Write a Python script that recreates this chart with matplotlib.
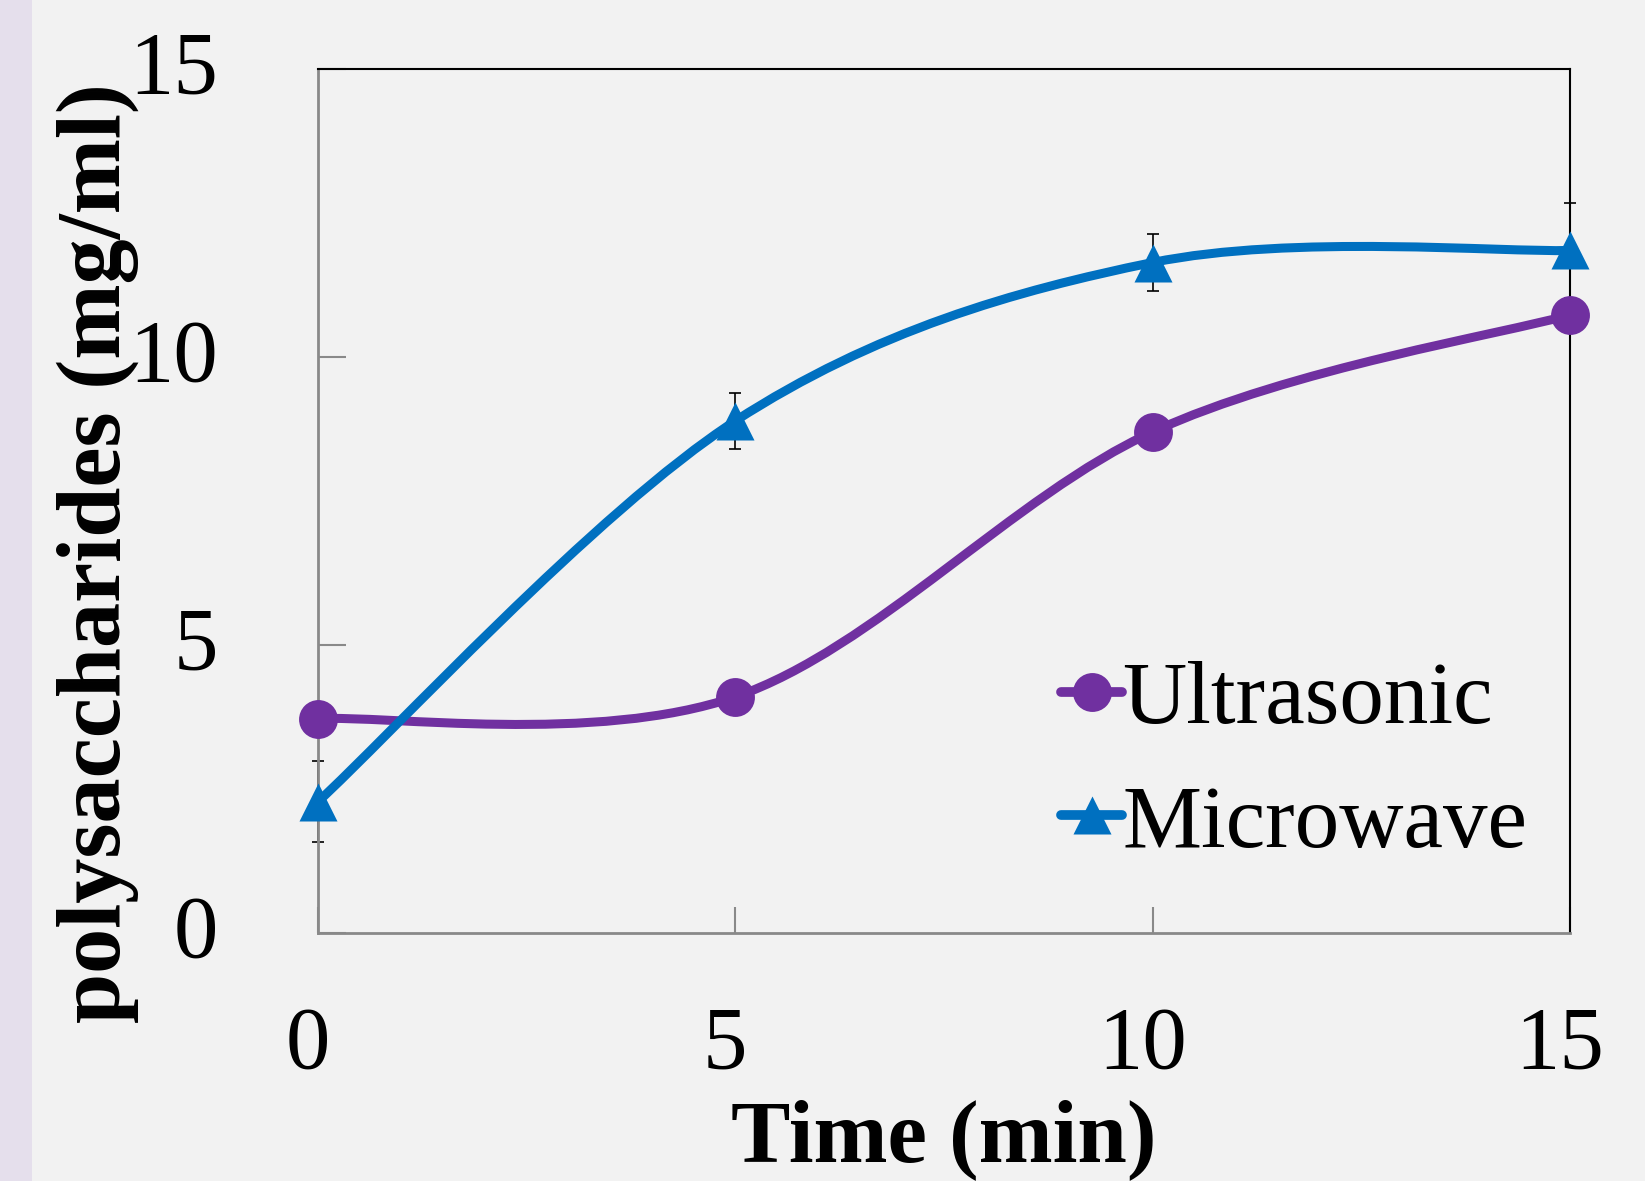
import numpy as np
import matplotlib
matplotlib.use("Agg")
import matplotlib.pyplot as plt
from matplotlib.path import Path
from matplotlib.patches import PathPatch, Rectangle
from matplotlib.lines import Line2D
from matplotlib.transforms import ScaledTranslation

plt.rcParams['font.family'] = ['Liberation Serif', 'DejaVu Serif']

# data
time_min = [0, 5, 10, 15]
ultrasonic = [3.72, 4.10, 8.70, 10.73]
microwave = [2.28, 8.89, 11.64, 11.85]
microwave_err = [0.70, 0.48, 0.49, 0.82]
x_ticks = [0, 5, 10, 15]
y_ticks = [0, 5, 10, 15]

PURPLE = '#7030A0'
BLUE = '#0070C0'
BG = '#f2f2f2'


def smooth_path(xs, ys):
    # Excel-like smoothed line: cubic bezier through the points
    p = np.column_stack([xs, ys]).astype(float)
    n = len(p)
    verts = [p[0]]
    codes = [Path.MOVETO]
    for i in range(n - 1):
        p_prev = p[max(i - 1, 0)]
        p_next = p[min(i + 2, n - 1)]
        c1 = p[i] + (p[i + 1] - p_prev) / 6.0
        c2 = p[i + 1] - (p_next - p[i]) / 6.0
        verts += [c1, c2, p[i + 1]]
        codes += [Path.CURVE4] * 3
    return Path(verts, codes)


fig = plt.figure(figsize=(16.45, 11.81), dpi=100)
fig.set_facecolor(BG)
fig.patches.append(Rectangle((0, 0), 32 / 1645, 1, transform=fig.transFigure,
                             facecolor='#e5dfec', edgecolor='none', zorder=0))

ax = fig.add_axes([0.1933, 0.2100, 0.7611, 0.7316])
ax.set_facecolor(BG)

lw = 6.5
ms = 28
ax.add_patch(PathPatch(smooth_path(time_min, ultrasonic), fill=False,
                       edgecolor=PURPLE, lw=lw, capstyle='round', zorder=3))
ax.plot(time_min, ultrasonic, 'o', color=PURPLE, ms=ms, mec='none',
        clip_on=False, zorder=4)

ax.errorbar(time_min, microwave, yerr=microwave_err, fmt='none', ecolor='black',
            elinewidth=1.2, capsize=4.5, capthick=1.2, zorder=2, clip_on=False)
ax.add_patch(PathPatch(smooth_path(time_min, microwave), fill=False,
                       edgecolor=BLUE, lw=lw, capstyle='round', zorder=5))
ax.plot(time_min, microwave, '^', color=BLUE, ms=ms, mec='none',
        clip_on=False, zorder=6)

ax.set_xlim(0, 15)
ax.set_ylim(0, 15)
ax.set_xticks(x_ticks)
ax.set_yticks(y_ticks)
ax.tick_params(axis='both', direction='in', labelsize=64, color='#898989',
               width=1.5)
ax.tick_params(axis='y', length=20, pad=72)
ax.tick_params(axis='x', length=19, pad=52)
for lab in ax.get_xticklabels():
    lab.set_transform(lab.get_transform() +
                      ScaledTranslation(-10 / 100, 0, fig.dpi_scale_trans))
for lab in ax.get_yticklabels():
    lab.set_transform(lab.get_transform() +
                      ScaledTranslation(0, 7 / 100, fig.dpi_scale_trans))

for side in ['left', 'bottom']:
    ax.spines[side].set_color('#898989')
    ax.spines[side].set_linewidth(2)
for side in ['top', 'right']:
    ax.spines[side].set_color('black')
    ax.spines[side].set_linewidth(1.5)

fig.text(98 / 1645, 1 - 553 / 1181, 'polysaccharides (mg/ml)', rotation=90,
         ha='center', va='center', fontsize=65, fontweight='bold')
fig.text(944 / 1645, 1 - 1140 / 1181, 'Time (min)', ha='center', va='center',
         fontsize=64, fontweight='bold')

handles = [
    Line2D([], [], color=PURPLE, lw=7, marker='o', ms=ms, mec='none',
           solid_capstyle='round'),
    Line2D([], [], color=BLUE, lw=7, marker='^', ms=ms, mec='none',
           solid_capstyle='round'),
]
ax.legend(handles, ['Ultrasonic', 'Microwave'], loc='center left',
          bbox_to_anchor=(1061 / 1645, 1 - 763 / 1181),
          bbox_transform=fig.transFigure, frameon=False, fontsize=64,
          handlelength=0.69, handletextpad=0.0, borderpad=0, borderaxespad=0,
          labelspacing=0.48)

fig.savefig('out.png', dpi=100, facecolor=BG)
